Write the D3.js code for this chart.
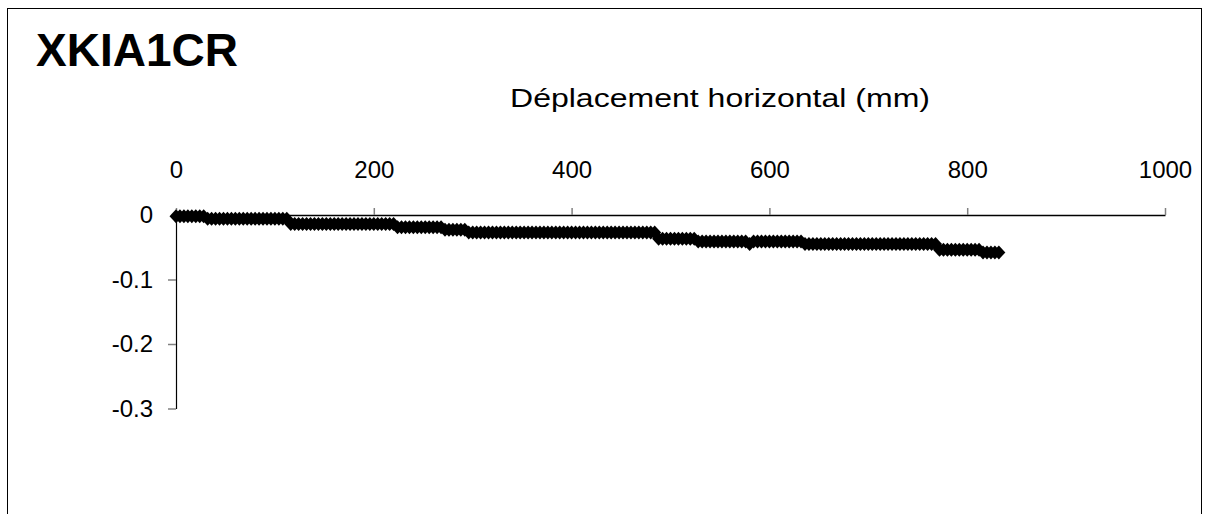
<!DOCTYPE html>
<html>
<head>
<meta charset="utf-8">
<script src="https://cdn.jsdelivr.net/npm/d3@7/dist/d3.min.js"></script>
<style>
  html, body { margin: 0; padding: 0; background: #fff; }
  svg { display: block; font-family: "Liberation Sans", Arial, sans-serif; }
</style>
</head>
<body>
<svg id="chart" width="1211" height="514"></svg>
<script>
const chartTitle = "XKIA1CR";
const xAxisTitle = "Déplacement horizontal (mm)";
const xTicks = [0, 200, 400, 600, 800, 1000];
const yTicks = [0, -0.1, -0.2, -0.3];
const yTickLabels = ["0", "-0.1", "-0.2", "-0.3"];

// Horizontal displacement (mm)
const dispX = [
  0,4,8,12,16,20,24,28,
  32,36,40,44,48,52,56,60,64,68,72,76,80,84,88,92,96,100,104,108,112,
  116,120,124,128,132,136,140,144,148,152,156,160,164,168,172,176,180,184,188,192,196,200,204,208,212,216,220,
  224,228,232,236,240,244,248,252,256,260,264,268,
  272,276,280,284,288,292,
  296,300,304,308,312,316,320,324,328,332,336,340,344,348,352,356,360,364,368,372,376,380,384,388,392,396,400,404,408,412,416,420,424,428,432,436,440,444,448,452,456,460,464,468,472,476,480,484,
  488,492,496,500,504,508,512,516,520,524,
  528,532,536,540,544,548,552,556,560,564,568,572,576,580,584,588,592,596,600,604,608,612,616,620,624,628,632,
  636,640,644,648,652,656,660,664,668,672,676,680,684,688,692,696,700,704,708,712,716,720,724,728,732,736,740,744,748,752,756,760,764,768,
  772,776,780,784,788,792,796,800,804,808,812,
  816,820,824,828,832
];
// Vertical value
const dispY = [
  -0.002,-0.002,-0.002,-0.002,-0.002,-0.002,-0.002,-0.002,
  -0.006,-0.006,-0.006,-0.006,-0.006,-0.006,-0.006,-0.006,-0.006,-0.006,-0.006,-0.006,-0.006,-0.006,-0.006,-0.006,-0.006,-0.006,-0.006,-0.006,-0.006,
  -0.014,-0.014,-0.014,-0.014,-0.014,-0.014,-0.014,-0.014,-0.014,-0.014,-0.014,-0.014,-0.014,-0.014,-0.014,-0.014,-0.014,-0.014,-0.014,-0.014,-0.014,-0.014,-0.014,-0.014,-0.014,-0.014,-0.014,
  -0.019,-0.019,-0.019,-0.019,-0.019,-0.019,-0.019,-0.019,-0.019,-0.019,-0.019,-0.019,
  -0.023,-0.023,-0.023,-0.023,-0.023,-0.023,
  -0.027,-0.027,-0.027,-0.027,-0.027,-0.027,-0.027,-0.027,-0.027,-0.027,-0.027,-0.027,-0.027,-0.027,-0.027,-0.027,-0.027,-0.027,-0.027,-0.027,-0.027,-0.027,-0.027,-0.027,-0.027,-0.027,-0.027,-0.027,-0.027,-0.027,-0.027,-0.027,-0.027,-0.027,-0.027,-0.027,-0.027,-0.027,-0.027,-0.027,-0.027,-0.027,-0.027,-0.027,-0.027,-0.027,-0.027,-0.027,
  -0.037,-0.037,-0.037,-0.037,-0.037,-0.037,-0.037,-0.037,-0.037,-0.037,
  -0.041,-0.041,-0.041,-0.041,-0.041,-0.041,-0.041,-0.041,-0.041,-0.041,-0.041,-0.041,-0.041,-0.045,-0.041,-0.041,-0.041,-0.041,-0.041,-0.041,-0.041,-0.041,-0.041,-0.041,-0.041,-0.041,-0.041,
  -0.045,-0.045,-0.045,-0.045,-0.045,-0.045,-0.045,-0.045,-0.045,-0.045,-0.045,-0.045,-0.045,-0.045,-0.045,-0.045,-0.045,-0.045,-0.045,-0.045,-0.045,-0.045,-0.045,-0.045,-0.045,-0.045,-0.045,-0.045,-0.045,-0.045,-0.045,-0.045,-0.045,-0.045,
  -0.054,-0.054,-0.054,-0.054,-0.054,-0.054,-0.054,-0.054,-0.054,-0.054,-0.054,
  -0.058,-0.058,-0.058,-0.058,-0.058
];

const svg = d3.select("#chart");

// outer frame
svg.append("rect")
  .attr("x", 7.5).attr("y", 8.5)
  .attr("width", 1194).attr("height", 520)
  .attr("fill", "#fff").attr("stroke", "#000").attr("stroke-width", 1);

const x = d3.scaleLinear().domain([0, 1000]).range([176, 1165]);
const y = d3.scaleLinear().domain([-0.3, 0]).range([408.5, 215]);

// title
svg.append("text")
  .attr("x", 36).attr("y", 66)
  .attr("font-size", 46).attr("font-weight", "bold")
  .attr("fill", "#000")
  .text(chartTitle);

// x axis title
svg.append("text")
  .attr("x", 510).attr("y", 107)
  .attr("font-size", 26)
  .attr("textLength", 420)
  .attr("lengthAdjust", "spacingAndGlyphs")
  .attr("fill", "#000")
  .text(xAxisTitle);

// x axis (at top, y = 0)
const xAxis = svg.append("g")
  .attr("transform", `translate(0,${y(0)})`)
  .call(d3.axisTop(x).tickValues(xTicks).tickSizeOuter(0).tickSizeInner(7).tickPadding(30).tickFormat(d3.format("d")));
xAxis.select(".domain").attr("stroke", "#000").attr("stroke-width", 1.5);
xAxis.selectAll(".tick line").attr("stroke", "#808080").attr("stroke-width", 1.5);
xAxis.selectAll(".tick text").attr("font-size", 24).attr("fill", "#000")
  .attr("font-family", '"Liberation Sans", Arial, sans-serif');

// y axis
const yAxis = svg.append("g")
  .attr("transform", `translate(${x(0)},0)`)
  .call(d3.axisLeft(y).tickValues(yTicks).tickSizeOuter(0).tickSizeInner(8).tickPadding(15)
    .tickFormat((d, i) => yTickLabels[i]));
yAxis.select(".domain").attr("stroke", "#000").attr("stroke-width", 1.2);
yAxis.selectAll(".tick line").attr("stroke", "#808080").attr("stroke-width", 1.5);
yAxis.selectAll(".tick text").attr("font-size", 24).attr("fill", "#000")
  .attr("font-family", '"Liberation Sans", Arial, sans-serif');
yAxis.selectAll(".tick").filter(d => d === 0).select("line").remove();

// series
const pts = dispX.map((d, i) => [d, dispY[i]]).filter(p => p[1] !== undefined);
const line = d3.line().x(d => x(d[0])).y(d => y(d[1]));
svg.append("path")
  .datum(pts)
  .attr("d", line)
  .attr("fill", "none")
  .attr("stroke", "#000")
  .attr("stroke-width", 2);

const hw = 6.5, hh = 7;
svg.append("g").selectAll("path.mk")
  .data(pts)
  .join("path")
  .attr("class", "mk")
  .attr("d", d => {
    const cx = x(d[0]), cy = y(d[1]);
    return `M${cx},${cy - hh}L${cx + hw},${cy}L${cx},${cy + hh}L${cx - hw},${cy}Z`;
  })
  .attr("fill", "#000");
</script>
</body>
</html>
